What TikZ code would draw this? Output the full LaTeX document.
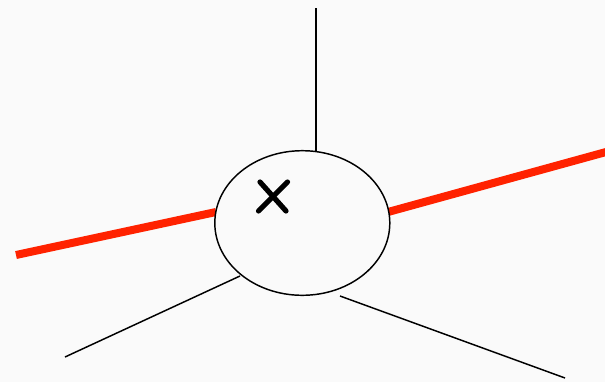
\documentclass[tikz,border=0pt]{standalone}
\usetikzlibrary{shapes.geometric}
\definecolor{bg}{HTML}{FAFAFA}
\definecolor{redline}{HTML}{FF2200}
\begin{document}
\begin{tikzpicture}[x=0.75pt,y=-0.75pt,
  thinline/.style={draw=black,line width=1.1pt},
  thickred/.style={draw=redline,line width=6pt},
  crossline/.style={draw=black,line width=3.9pt,line cap=round},
  blob/.style={ellipse,draw=black,line width=1.1pt,fill=bg,minimum width=175pt*0.75,minimum height=144.6pt*0.75,inner sep=0pt}]
\fill[bg] (0,0) rectangle (605,382);
\useasboundingbox (0,0) rectangle (605,382);
% free ends and attach points
\coordinate (topE) at (316,8);
\coordinate (topA) at (316,151);
\coordinate (lE) at (16,255);
\coordinate (lA) at (216,212);
\coordinate (rE) at (606,152);
\coordinate (rA) at (388,212);
\coordinate (blE) at (65,357);
\coordinate (blA) at (240,276);
\coordinate (brE) at (565,378);
\coordinate (brA) at (340,296);
\draw[thickred] (lE) -- (lA);
\draw[thickred] (rA) -- (rE);
\node[blob] (e) at (302.3,223) {};
\draw[thinline] (topE) -- (topA);
\draw[thinline] (blA) -- (blE);
\draw[thinline] (brA) -- (brE);
\coordinate (x1) at (260,182);
\coordinate (x2) at (286,211);
\coordinate (x3) at (287.5,182);
\coordinate (x4) at (258.5,211);
\draw[crossline] (x1) -- (x2);
\draw[crossline] (x3) -- (x4);
\end{tikzpicture}
\end{document}
